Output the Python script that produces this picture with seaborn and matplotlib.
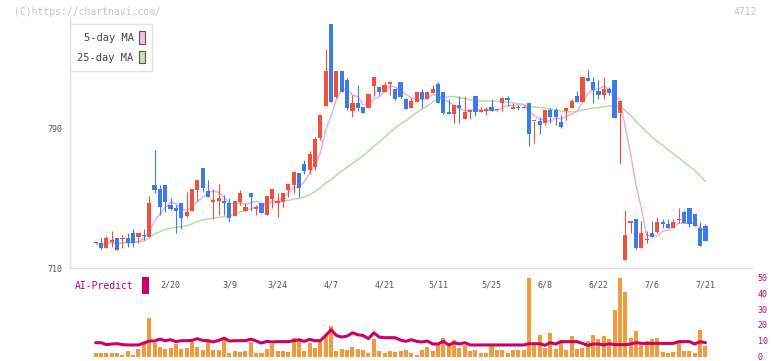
import matplotlib
matplotlib.use("Agg")
import matplotlib.pyplot as plt
from matplotlib.patches import Patch, Rectangle
import numpy as np
import pandas as pd
import seaborn as sns

###############################################################################
# Daily candles, volume-like bars and AI-Predict line.

opens = [724.1, 724.1, 721.2, 725.0, 727.0, 726.8, 727.0, 729.8, 727.9, 728.5,
         727.9, 757.4, 754.9, 757.4, 746.0, 744.1, 747.0, 739.9, 742.8, 754.6,
         766.9, 754.0, 747.9, 748.3, 748.3, 747.0, 739.9, 747.9, 742.8, 752.7,
         744.0, 747.0, 740.5, 749.2, 747.0, 747.9, 754.6, 757.4, 764.1, 769.4,
         766.0, 768.0, 784.1, 802.7, 849.4, 807.9, 822.6, 817.4, 799.9, 804.1,
         801.8, 801.2, 814.2, 813.6, 810.8, 815.1, 812.3, 816.5, 806.6, 801.6,
         805.0, 810.8, 806.6, 810.2, 815.1, 810.8, 799.3, 797.8, 803.1, 795.0,
         799.0, 808.3, 799.0, 799.9, 801.8, 800.1, 804.1, 806.9, 801.0, 801.8,
         801.2, 804.5, 793.8, 794.0, 792.7, 800.3, 800.3, 793.6, 799.9, 801.2,
         808.3, 805.0, 818.8, 816.1, 811.1, 808.9, 812.3, 817.4, 798.8, 714.6,
         736.0, 737.8, 721.6, 726.0, 729.8, 730.8, 736.1, 735.2, 732.7, 737.3,
         741.8, 744.1, 740.9, 732.7, 734.0]
highs = [724.5, 727.3, 728.3, 731.1, 727.0, 728.9, 729.8, 732.1, 729.8, 732.3,
         751.1, 777.4, 757.4, 757.4, 749.8, 746.0, 747.0, 753.6, 754.9, 760.3,
         766.9, 760.3, 754.9, 758.0, 751.7, 749.8, 748.3, 754.6, 747.0, 752.7,
         746.0, 747.0, 751.1, 754.9, 752.7, 752.7, 758.0, 765.0, 764.1, 772.0,
         777.0, 785.0, 797.4, 835.1, 849.4, 822.6, 822.6, 818.4, 808.9, 814.6,
         801.8, 809.4, 819.3, 813.6, 816.5, 816.1, 812.3, 816.5, 807.3, 806.9,
         810.8, 812.3, 811.3, 814.6, 816.5, 810.8, 806.6, 803.1, 808.3, 808.3,
         800.3, 808.3, 801.8, 801.8, 806.6, 800.5, 806.9, 808.3, 804.1, 803.1,
         803.1, 804.5, 794.2, 796.1, 800.3, 801.6, 801.2, 797.4, 801.2, 806.6,
         811.1, 819.3, 823.1, 819.3, 817.4, 819.3, 813.6, 817.4, 805.4, 743.1,
         736.1, 737.8, 736.9, 731.1, 736.9, 738.9, 738.0, 738.0, 738.0, 744.1,
         743.1, 744.1, 740.9, 736.1, 735.0]
lows = [723.8, 720.6, 721.2, 722.2, 720.3, 721.2, 722.2, 721.8, 724.5, 726.0,
        727.9, 752.7, 740.3, 742.2, 743.1, 729.8, 732.1, 738.9, 742.8, 748.5,
        753.6, 750.8, 737.8, 740.3, 740.3, 736.5, 739.9, 746.0, 742.8, 742.8,
        740.3, 741.6, 740.5, 744.1, 738.9, 745.0, 750.8, 752.7, 750.8, 764.0,
        764.0, 766.0, 783.1, 802.7, 805.0, 807.0, 810.8, 800.3, 796.1, 799.9,
        798.8, 801.2, 808.3, 808.9, 810.8, 808.9, 806.0, 807.0, 800.9, 801.6,
        805.0, 801.6, 806.6, 810.2, 804.1, 797.8, 797.8, 793.0, 793.0, 795.0,
        795.0, 797.0, 799.0, 797.4, 799.9, 800.0, 799.9, 802.6, 801.0, 800.3,
        801.2, 779.7, 781.6, 786.6, 791.7, 792.7, 791.7, 789.8, 794.6, 801.2,
        805.0, 805.0, 817.0, 804.1, 806.6, 806.6, 808.9, 795.9, 769.4, 714.6,
        729.8, 720.7, 721.6, 724.1, 727.9, 729.8, 732.7, 732.7, 732.7, 735.6,
        735.9, 733.6, 734.0, 722.8, 725.4]
closes = [724.3, 721.2, 727.0, 726.0, 720.3, 727.0, 724.5, 724.5, 729.8, 728.1,
          747.0, 754.6, 744.7, 747.9, 743.7, 742.8, 738.8, 742.2, 754.9, 760.3,
          755.9, 750.8, 748.9, 749.8, 747.0, 738.8, 748.3, 752.7, 745.0, 750.8,
          744.2, 741.6, 751.1, 754.9, 748.3, 752.7, 758.0, 765.0, 755.9, 765.6,
          775.0, 784.0, 797.4, 822.6, 805.0, 822.6, 810.8, 801.6, 804.1, 801.2,
          798.8, 809.4, 819.3, 810.8, 814.6, 816.1, 806.6, 807.9, 800.9, 805.4,
          810.8, 806.6, 810.8, 812.3, 804.1, 798.8, 797.8, 803.1, 801.2, 798.9,
          800.3, 799.0, 800.3, 800.7, 799.9, 800.4, 806.9, 806.0, 801.8, 801.2,
          801.8, 786.6, 794.0, 791.7, 800.3, 796.1, 796.1, 790.8, 801.2, 805.4,
          805.0, 819.3, 817.0, 811.7, 808.9, 812.3, 810.2, 795.9, 805.4, 728.9,
          736.1, 721.6, 729.8, 726.2, 727.9, 736.1, 735.0, 732.7, 736.1, 737.6,
          735.9, 735.0, 734.0, 722.8, 725.4]

volume = [2.5, 1.9, 1.9, 1.9, 2.5, 1.25, 3.75, 1.25, 5.0, 8.1,
          24.4, 8.75, 6.25, 5.0, 5.6, 8.1, 5.0, 5.6, 9.4, 6.25,
          4.4, 9.4, 4.4, 4.4, 10.6, 1.9, 3.75, 3.1, 3.75, 9.4,
          2.5, 1.9, 5.0, 8.1, 3.75, 3.75, 3.1, 11.9, 10.6, 3.75,
          8.75, 5.6, 9.4, 13.1, 19.4, 3.75, 5.0, 4.4, 6.25, 5.0,
          4.4, 2.5, 11.25, 3.75, 1.9, 3.75, 3.1, 3.75, 4.4, 1.9,
          1.25, 4.4, 6.0, 3.3, 8.1, 11.9, 6.5, 10.6, 5.6, 7.1,
          3.3, 4.4, 1.9, 2.5, 6.5, 4.4, 4.0, 2.5, 4.0, 4.4,
          4.0, 49.4, 7.1, 13.75, 5.6, 15.0, 5.0, 10.6, 4.4, 13.1,
          5.0, 5.6, 10.0, 13.75, 11.25, 13.1, 11.25, 29.4, 49.4, 40.6,
          11.9, 16.25, 7.1, 10.0, 11.25, 11.9, 3.1, 1.9, 3.1, 8.75,
          3.75, 3.75, 2.5, 16.9, 6.9]
ai_predict = [8.75, 8.75, 7.5, 7.9, 8.1, 7.5, 7.3, 7.3, 7.3, 8.5,
              9.8, 9.8, 11.0, 10.0, 10.6, 9.4, 10.0, 10.0, 10.2, 11.25,
              10.2, 10.0, 9.2, 10.2, 11.6, 9.8, 10.0, 10.0, 10.0, 11.0,
              9.8, 8.5, 9.6, 9.2, 9.4, 9.4, 9.4, 10.0, 10.6, 9.6,
              10.8, 10.0, 10.0, 13.3, 16.9, 13.3, 12.3, 12.9, 15.0, 13.75,
              13.3, 11.25, 15.0, 12.3, 11.9, 11.9, 11.9, 10.4, 9.6, 10.6,
              9.6, 9.2, 9.8, 7.9, 7.9, 9.6, 7.3, 8.75, 7.9, 8.75,
              7.3, 7.3, 7.3, 7.3, 7.3, 7.3, 7.3, 7.3, 7.3, 7.3,
              7.3, 8.1, 8.1, 8.1, 7.1, 8.75, 7.9, 9.4, 9.4, 9.4,
              9.4, 8.3, 7.1, 7.9, 7.9, 7.3, 8.1, 7.5, 7.5, 7.5,
              7.9, 8.75, 8.3, 8.3, 8.3, 8.3, 8.3, 8.3, 8.3, 9.4,
              9.4, 9.4, 7.9, 9.4, 8.75]

date_labels = ["2/20", "3/9", "3/24", "4/7", "4/21", "5/11",
               "5/25", "6/8", "6/22", "7/6", "7/21"]
label_candle = [14, 25, 34, 44, 54, 64, 74, 84, 94, 104, 114]

###############################################################################
# Plot settings.

RED = "#f0503c"
BLUE = "#3d7bea"
PINK = "#e4aaea"
GREEN = "#b0da9f"
ORANGE = "#f39a3e"
CRIMSON = "#cc0066"
AXCOL = "#dddddd"
TXT = "#555555"

sns.set_style("white")
plt.rcParams["font.family"] = ["DejaVu Sans Mono"]

df = pd.DataFrame({"open": opens, "high": highs, "low": lows, "close": closes,
                   "volume": volume, "ai": ai_predict})
df["idx"] = np.arange(len(df))
df["ma5"] = df["close"].rolling(5, min_periods=1).mean()
df["ma25"] = df["close"].rolling(25, min_periods=1).mean()
colors = np.where(df["close"] >= df["open"], RED, BLUE)

W, H = 772, 361
fig = plt.figure(figsize=(W / 100, H / 100), dpi=100)
ax2 = fig.add_axes([70 / W, 4.5 / H, 682 / W, 79 / H])
ax = fig.add_axes([70 / W, (H - 268) / H, 682 / W, 250 / H])
ax.patch.set_alpha(0)
ax2.patch.set_alpha(0)
xlim = (-4.8, 122.7)

###############################################################################
# Candles and moving averages.

sns.lineplot(data=df, x="idx", y="ma25", ax=ax, color=GREEN, lw=1, zorder=2)
sns.lineplot(data=df, x="idx", y="ma5", ax=ax, color=PINK, lw=1, zorder=2)
ax.vlines(df["idx"], df["low"], df["high"], colors=colors, lw=0.8, zorder=3)
body = np.maximum((df["close"] - df["open"]).abs(), 0.6)
ax.bar(df["idx"], body, bottom=np.minimum(df["open"], df["close"]),
       width=0.78, color=colors, linewidth=0, zorder=4)

ax.set_xlim(xlim)
ax.set_ylim(710, 710 + 250 / 1.75)
ax.set(xlabel=None, ylabel=None)
ax.set_yticks([710, 790])
ax.tick_params(axis="y", direction="inout", length=6.5, width=0.8,
               color=AXCOL, labelsize=6, labelcolor=TXT, pad=2)
ax.set_xticks(label_candle, date_labels)
span = xlim[1] - xlim[0]
ax.set_xticks([xlim[0] + span * k / 11 for k in range(1, 12)], minor=True)
ax.tick_params(axis="x", which="major", length=0, labelsize=6,
               labelcolor=TXT, pad=9)
ax.tick_params(axis="x", which="minor", direction="inout", length=9,
               width=0.8, color=AXCOL)
for side in ["top", "right"]:
    ax.spines[side].set_visible(False)
for side in ["left", "bottom"]:
    ax.spines[side].set_color(AXCOL)
    ax.spines[side].set_linewidth(1)

handles = [Patch(facecolor="#f0c0f0", edgecolor="#555555", lw=0.8),
           Patch(facecolor="#c4e4b4", edgecolor="#555555", lw=0.8)]
leg = ax.legend(handles, ["5-day MA", "25-day MA"], loc="upper left",
                bbox_to_anchor=(70 / W, 1 - 24 / H),
                bbox_transform=fig.transFigure, markerfirst=False,
                fancybox=False, edgecolor=AXCOL, fontsize=7.5,
                handlelength=0.6, handleheight=1.5, handletextpad=0.5,
                borderpad=0.7, labelspacing=0.65, borderaxespad=0)
leg.get_frame().set_linewidth(1)
for t in leg.get_texts():
    t.set_color("#444444")

###############################################################################
# Lower panel: bars and AI-Predict line.

ax2.bar(df["idx"], df["volume"], width=0.75, color=ORANGE, linewidth=0)
sns.lineplot(data=df, x="idx", y="ai", ax=ax2, color=CRIMSON, lw=2.2)
ax2.set_xlim(xlim)
ax2.set_ylim(0, 50)
ax2.set(xlabel=None, ylabel=None)
ax2.set_xticks([])
ax2.yaxis.tick_right()
ax2.set_yticks(range(0, 51, 10))
ax2.tick_params(axis="y", length=0, labelsize=6, labelcolor=CRIMSON, pad=4)
for side in ax2.spines:
    ax2.spines[side].set_visible(False)

fig.text(75 / W, 1 - 286 / H, "AI-Predict", color=CRIMSON, fontsize=7,
         va="center")
fig.add_artist(Rectangle((142 / W, 1 - 294 / H), 7 / W, 17 / H,
                         transform=fig.transFigure, color=CRIMSON, lw=0))
fig.text(14 / W, 1 - 12 / H, "(C)https://chartnavi.com/", color="#c4c4c4",
         fontsize=7, va="center")
fig.text(757 / W, 1 - 12 / H, "4712", color="#c4c4c4", fontsize=7,
         va="center", ha="right")

fig.savefig("out.png", dpi=100)
plt.close()
